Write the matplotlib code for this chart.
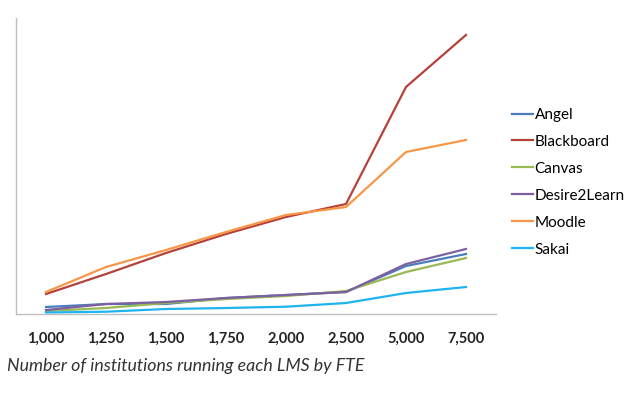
import matplotlib.pyplot as plt

plt.rcParams['font.family'] = ['Lato', 'DejaVu Sans']

# FTE bands (categorical x axis)
fte = ['1,000', '1,250', '1,500', '1,750', '2,000', '2,500', '5,000', '7,500']

# Number of institutions per LMS (arbitrary units)
angel = [7, 10, 10, 16, 19, 22, 48, 60]
blackboard = [20, 40, 61, 80, 97, 110, 227, 279]
canvas = [3, 6, 11, 15, 18, 23, 42, 56]
desire2learn = [4, 10, 12, 16, 19, 22, 50, 65]
moodle = [22, 47, 64, 82, 99, 107, 162, 174]
sakai = [1.5, 2.3, 5, 6, 7.3, 11, 21, 27]

series = [
    ('Angel', angel, '#4A7EBB'),
    ('Blackboard', blackboard, '#B5413B'),
    ('Canvas', canvas, '#98B954'),
    ('Desire2Learn', desire2learn, '#7D60A0'),
    ('Moodle', moodle, '#F79646'),
    ('Sakai', sakai, '#1EB4F0'),
]

fig = plt.figure(figsize=(6.4, 3.99), dpi=100)
ax = fig.add_axes([0.025, 0.213, 0.75, 0.742])

x = range(len(fte))
for name, vals, col in series:
    ax.plot(x, vals, color=col, lw=1.6, label=name)

ax.set_xlim(-0.5, len(fte) - 0.5)
ax.set_ylim(0, 296)
ax.set_xticks(list(x))
ax.set_xticklabels(fte, fontsize=10.5, fontweight='bold', color='#222222')
ax.tick_params(axis='x', length=0, pad=13)
ax.set_yticks([])
for s in ['top', 'right']:
    ax.spines[s].set_visible(False)
for s in ['left', 'bottom']:
    ax.spines[s].set_color('#BFBFBF')
    ax.spines[s].set_linewidth(1.0)

fig.text(0.011, 0.07, 'Number of institutions running each LMS by FTE',
         fontsize=12.8, style='italic', color='#333333')

fig.legend(loc='upper left', bbox_to_anchor=(0.79, 0.745), frameon=False,
           fontsize=11, handlelength=1.4, handletextpad=0.1,
           labelspacing=0.85, borderaxespad=0)

fig.savefig('out.png', dpi=100)
